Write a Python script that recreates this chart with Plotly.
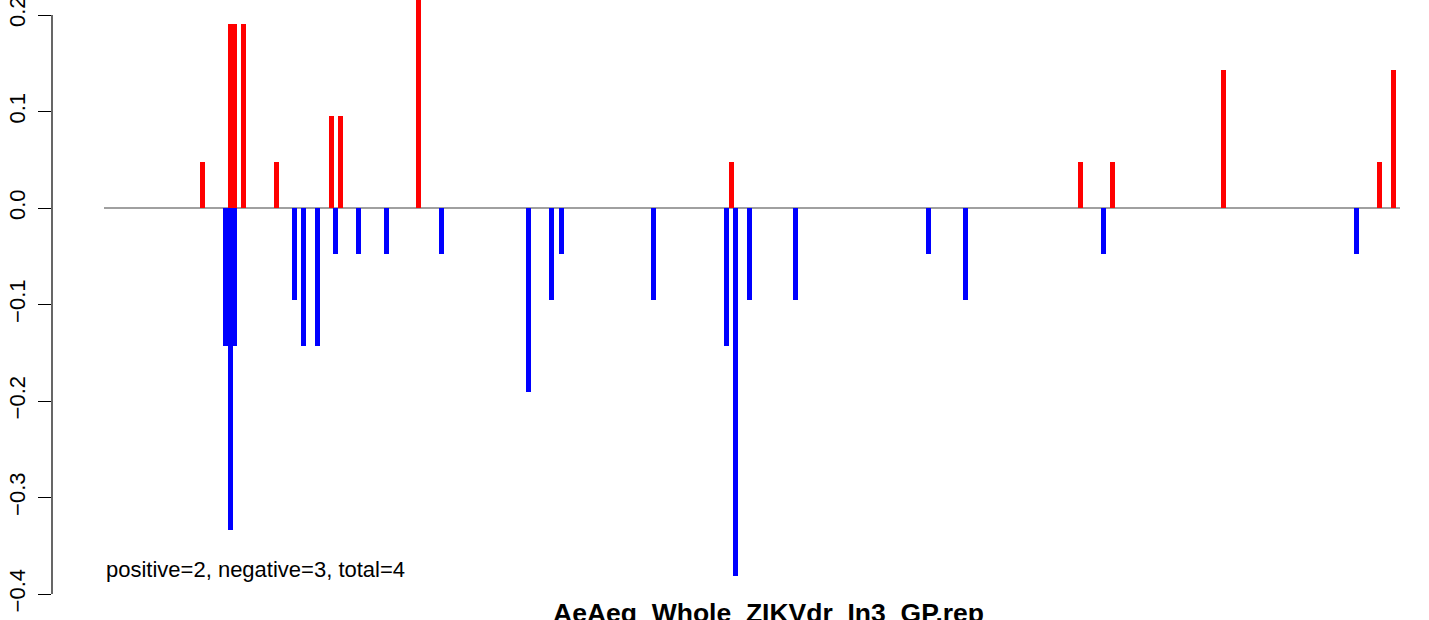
import plotly.graph_objects as go

# Positions along the sequence (plot units) and values
red_pos = [150.5, 178.5, 182.5, 191.5, 224.5, 279.5, 288.5, 366.5, 679.5,
           1028.5, 1060.5, 1171.5, 1327.5, 1341.5]
red_val = [0.0476, 0.1905, 0.1905, 0.1905, 0.0476, 0.0952, 0.0952, 0.2381,
           0.0476, 0.0476, 0.0476, 0.1429, 0.0476, 0.1429]

blue_pos = [173.5, 178.5, 182.5, 242.5, 251.5, 265.5, 283.5, 306.5, 334.5,
            389.5, 476.5, 499.5, 509.5, 601.5, 674.5, 683.5, 697.5, 743.5,
            876.5, 913.5, 1051.5, 1304.5]
blue_val = [-0.1429, -0.3333, -0.1429, -0.0952, -0.1429, -0.1429, -0.0476,
            -0.0476, -0.0476, -0.0476, -0.1905, -0.0952, -0.0476, -0.0952,
            -0.1429, -0.3810, -0.0952, -0.0952, -0.0476, -0.0952, -0.0476,
            -0.0476]

baseline_start = 52
baseline_end = 1348

y_ticks = [-0.4, -0.3, -0.2, -0.1, 0.0, 0.1, 0.2]
y_tick_labels = ["\u22120.4", "\u22120.3", "\u22120.2", "\u22120.1", "0.0", "0.1", "0.2"]

title_text = "AeAeg_Whole_ZIKVdr_In3_GP.rep"
stats_text = "positive=2, negative=3, total=4"

FONT = "Liberation Sans, Arial, Helvetica, sans-serif"

fig = go.Figure()
fig.add_trace(go.Bar(x=blue_pos, y=blue_val, width=5, marker=dict(color="#0000FF", line=dict(width=0)),
                     showlegend=False, hoverinfo="x+y"))
fig.add_trace(go.Bar(x=red_pos, y=red_val, width=5, marker=dict(color="#FF0000", line=dict(width=0)),
                     showlegend=False, hoverinfo="x+y"))

# zero line
fig.add_shape(type="line", x0=baseline_start, x1=baseline_end, y0=0, y1=0,
              xref="x", yref="y", line=dict(color="#808080", width=1.5), layer="below")
# y axis line limited to tick range
fig.add_shape(type="line", x0=0, x1=0, y0=min(y_ticks), y1=max(y_ticks),
              xref="paper", yref="y", line=dict(color="black", width=1.2))

fig.add_annotation(x=baseline_start, y=-0.375, xref="x", yref="y", text=stats_text,
                   showarrow=False, xanchor="left", yanchor="middle",
                   font=dict(family=FONT, size=22, color="black"))
fig.add_annotation(x=0.52, y=0.006, xref="paper", yref="paper", text="<b>" + title_text + "</b>",
                   showarrow=False, xanchor="center", yanchor="top",
                   font=dict(family=FONT, size=26.5, color="black"))

fig.update_layout(
    width=1429, height=620,
    margin=dict(l=52, r=0, t=0, b=20, autoexpand=False),
    paper_bgcolor="white", plot_bgcolor="white",
    barmode="overlay",
    bargap=0,
    xaxis=dict(range=[0, 1377], showgrid=False, zeroline=False, showline=False,
               showticklabels=False, ticks="", automargin=False),
    yaxis=dict(range=[-392 / 965, 208 / 965], showgrid=False, zeroline=False, showline=False,
               automargin=False,
               tickmode="array", tickvals=y_ticks, ticktext=y_tick_labels,
               ticks="outside", ticklen=13, tickwidth=1.2, tickcolor="black",
               tickangle=-90, ticklabelstandoff=4, ticklabeloverflow="allow",
               tickfont=dict(family=FONT, size=22, color="black")),
    font=dict(family=FONT),
)

fig.write_html("out.html",
               config={"displayModeBar": False},
               post_script="document.body.style.margin='0';document.body.style.padding='0';")
